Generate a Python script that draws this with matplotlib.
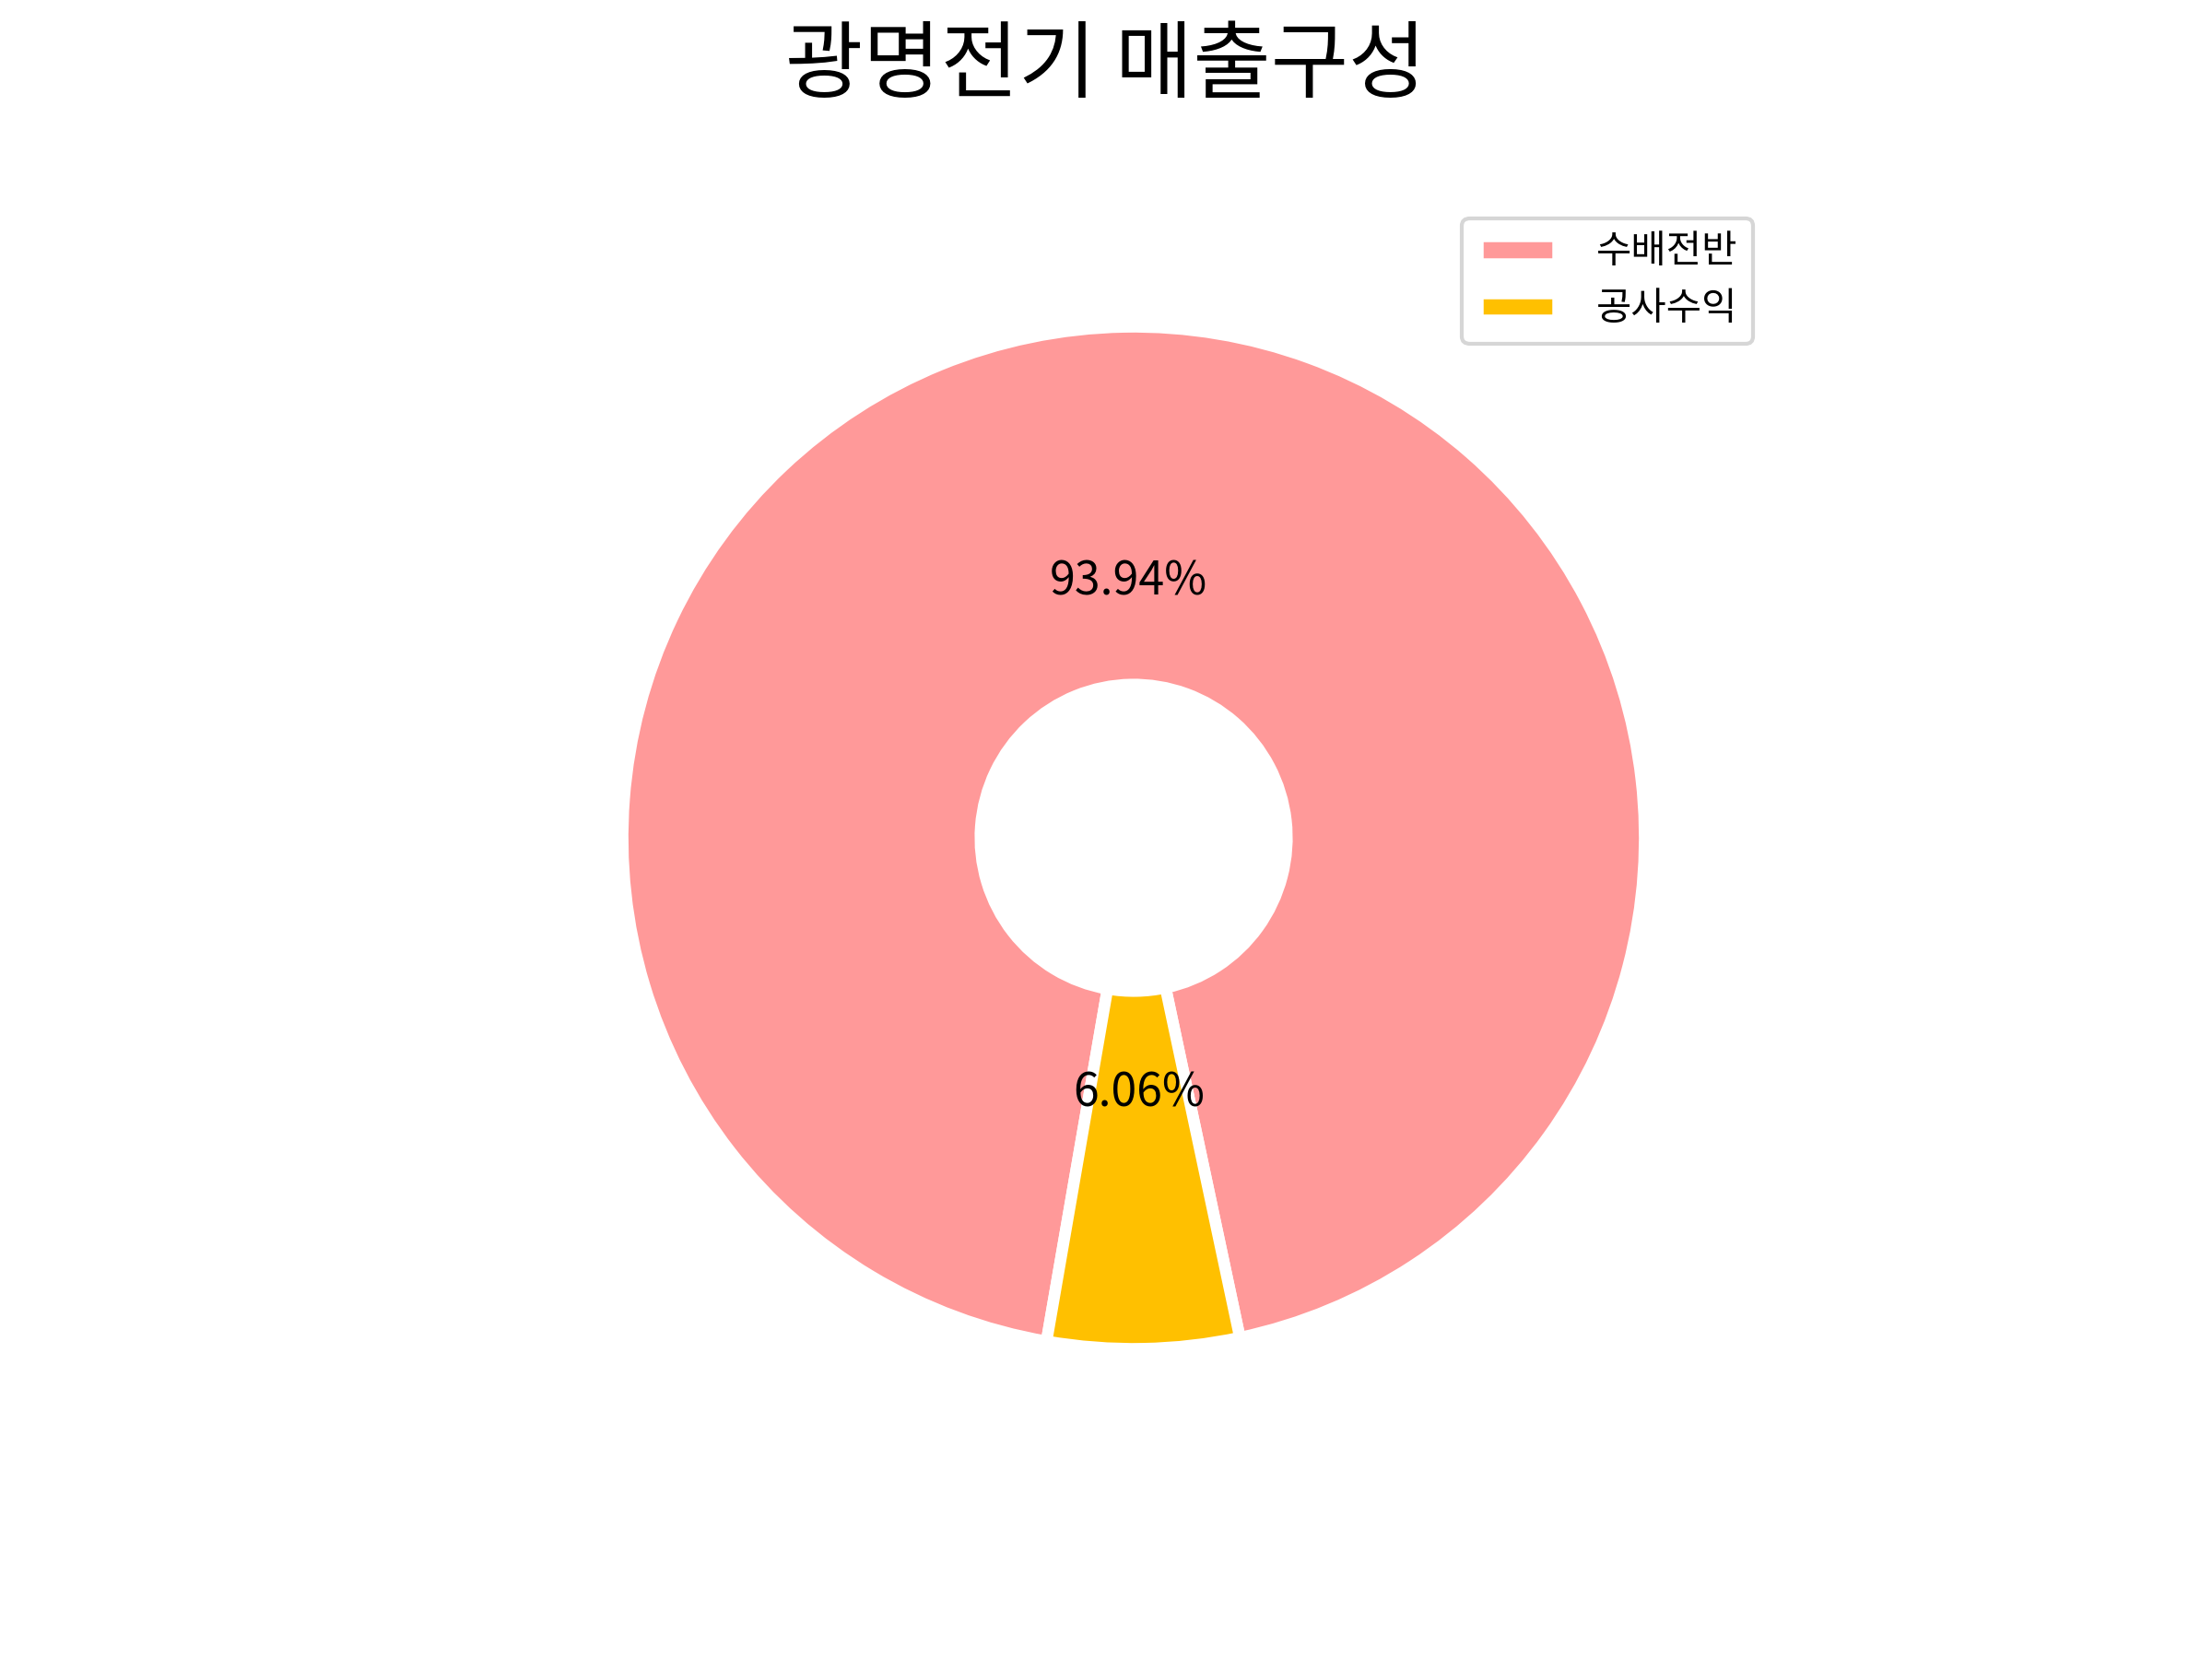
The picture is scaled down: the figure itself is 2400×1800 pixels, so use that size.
import matplotlib
matplotlib.use('Agg')
import matplotlib.pyplot as plt

plt.rcParams['font.family'] = ['Noto Sans CJK KR', 'DejaVu Sans']

# data
labels = ['수배전반', '공사수익']
ratio = [93.94, 6.06]
colors = ['#ff9999', '#ffc000']
title = '광명전기 매출구성'

fig, ax = plt.subplots(figsize=(8, 6), dpi=300)

wedges, texts, autotexts = ax.pie(
    ratio, colors=colors, autopct='%.2f%%', startangle=-78,
    pctdistance=0.5,
    wedgeprops={'width': 0.7, 'edgecolor': 'w', 'linewidth': 3})
for t in autotexts:
    t.set_fontsize(12)

ax.set_title(title, fontsize=22, pad=28, x=0.478)
ax.legend(wedges, labels, loc='upper right', handlelength=2.1, handletextpad=1.0)

fig.savefig('out.png')
